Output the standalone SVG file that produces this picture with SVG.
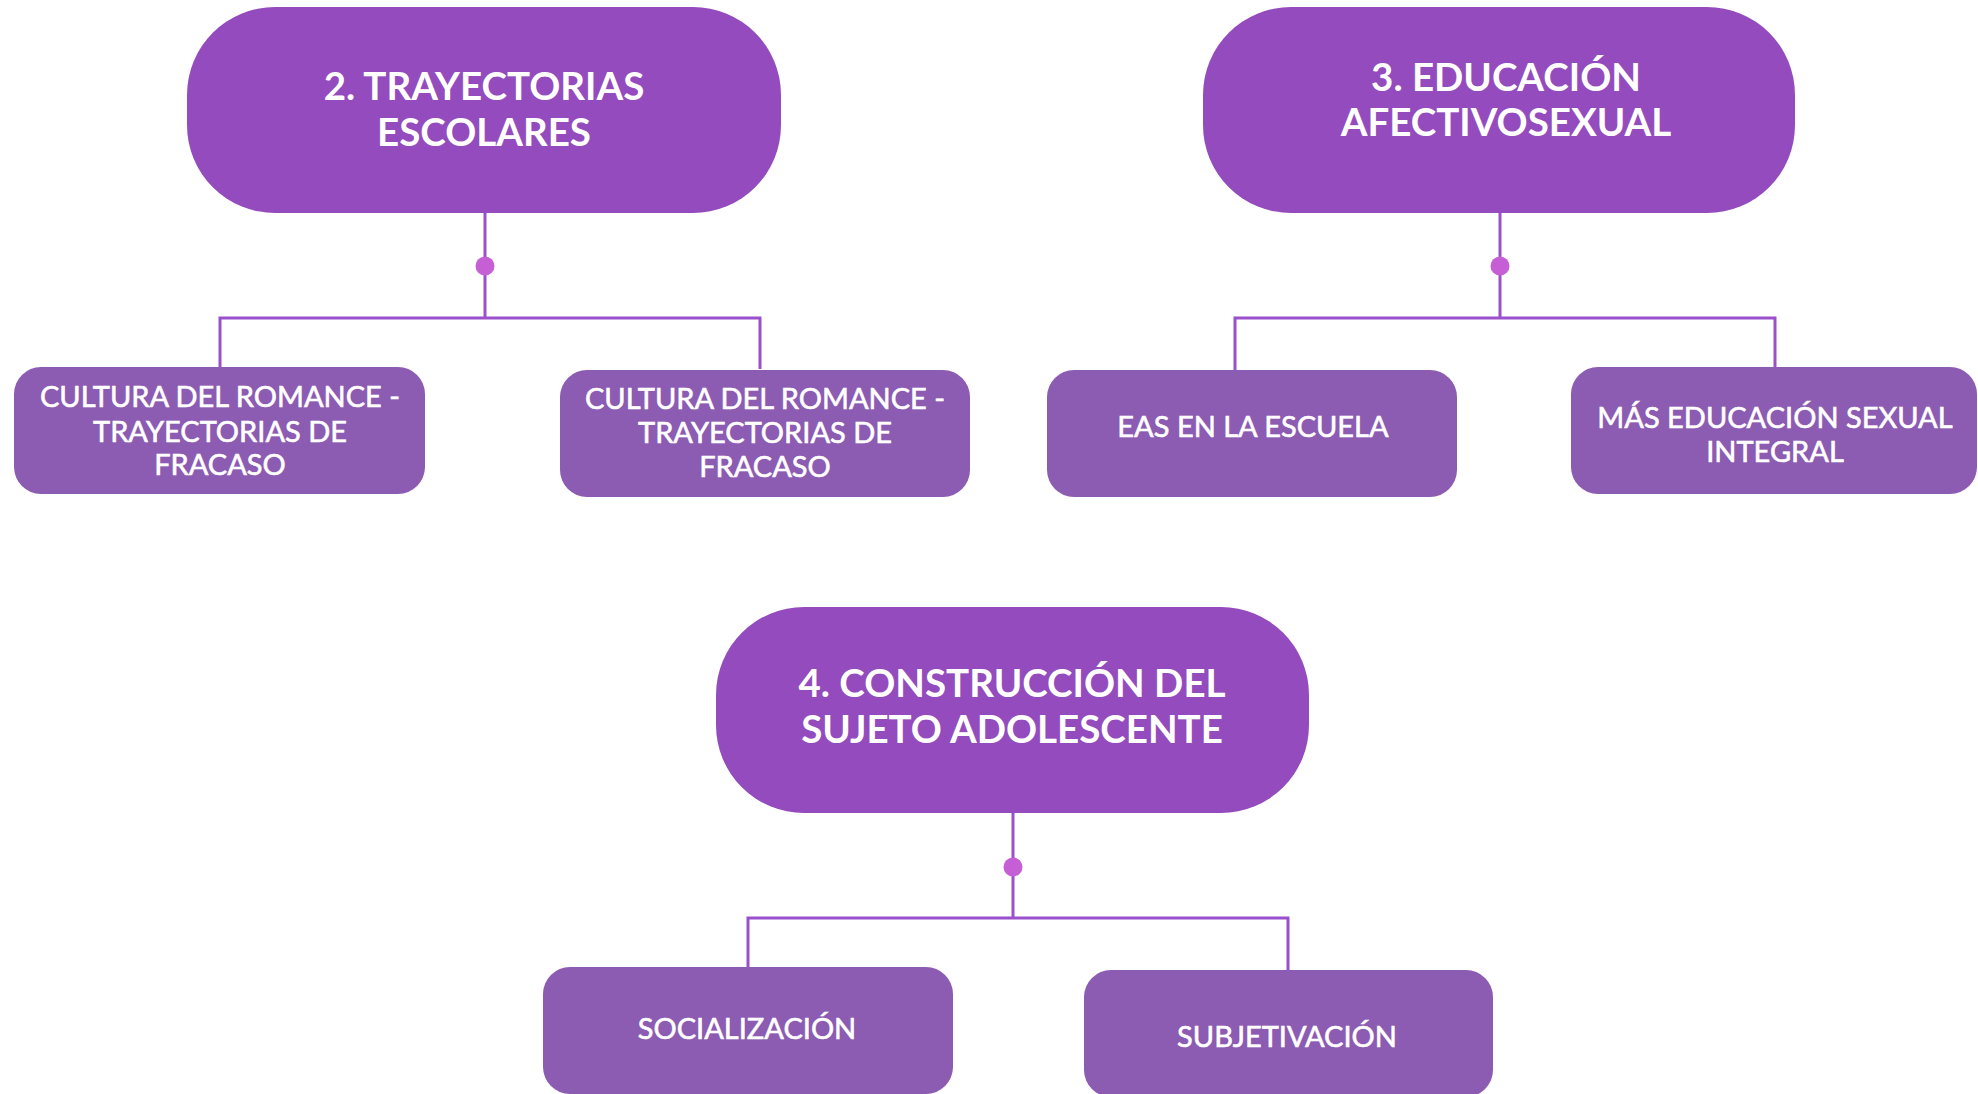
<svg xmlns="http://www.w3.org/2000/svg" width="1978" height="1094" viewBox="0 0 1978 1094">
<style>
.main{fill:#934BBD}
.child{fill:#8C5BB2}
.mt{font-family:Lato,"Liberation Sans",sans-serif;font-weight:700;font-size:38.5px;fill:#fff;text-anchor:middle}
.ct{font-family:Lato,"Liberation Sans",sans-serif;font-weight:400;font-size:29px;fill:#fff;stroke:#fff;stroke-width:0.6;text-anchor:middle}
.ln{fill:none;stroke:#9A4FCB;stroke-width:3}
.dot{fill:#C65ED6}
</style>
<rect width="1978" height="1094" fill="#fff"/>
<g id="connectors">
<path class="ln" d="M485 213V318M220 368V318H760V369"/>
<circle class="dot" cx="485" cy="266" r="9.5"/>
<path class="ln" d="M1500 213V318M1235 370V318H1775V368"/>
<circle class="dot" cx="1500" cy="266" r="9.5"/>
<path class="ln" d="M1013 813V918M748 968V918H1288V971"/>
<circle class="dot" cx="1013" cy="867" r="9.5"/>
</g>
<g id="node2">
<rect class="main" x="187" y="7" width="594" height="206" rx="88"/>
<text class="mt" x="484" y="100">2. TRAYECTORIAS</text>
<text class="mt" x="484" y="146">ESCOLARES</text>
</g>
<g id="node3">
<rect class="main" x="1203" y="7" width="592" height="206" rx="88"/>
<text class="mt" x="1506" y="91">3. EDUCACIÓN</text>
<text class="mt" x="1506" y="136">AFECTIVOSEXUAL</text>
</g>
<g id="node4">
<rect class="main" x="716" y="607" width="593" height="206" rx="88"/>
<text class="mt" x="1012" y="697">4. CONSTRUCCIÓN DEL</text>
<text class="mt" x="1012" y="743">SUJETO ADOLESCENTE</text>
</g>
<g id="child-romance-1">
<rect class="child" x="14" y="367" width="411" height="127" rx="27"/>
<text class="ct" x="220" y="407">CULTURA DEL ROMANCE -</text>
<text class="ct" x="220" y="442">TRAYECTORIAS DE</text>
<text class="ct" x="220" y="475">FRACASO</text>
</g>
<g id="child-romance-2">
<rect class="child" x="560" y="370" width="410" height="127" rx="27"/>
<text class="ct" x="765" y="409">CULTURA DEL ROMANCE -</text>
<text class="ct" x="765" y="443">TRAYECTORIAS DE</text>
<text class="ct" x="765" y="477">FRACASO</text>
</g>
<g id="child-eas">
<rect class="child" x="1047" y="370" width="410" height="127" rx="27"/>
<text class="ct" x="1253" y="437">EAS EN LA ESCUELA</text>
</g>
<g id="child-esi">
<rect class="child" x="1571" y="367" width="406" height="127" rx="27"/>
<text class="ct" x="1775" y="428">MÁS EDUCACIÓN SEXUAL</text>
<text class="ct" x="1775" y="462">INTEGRAL</text>
</g>
<g id="child-socializacion">
<rect class="child" x="543" y="967" width="410" height="127" rx="27"/>
<text class="ct" x="747" y="1039">SOCIALIZACIÓN</text>
</g>
<g id="child-subjetivacion">
<rect class="child" x="1084" y="970" width="409" height="127" rx="27"/>
<text class="ct" x="1287" y="1047">SUBJETIVACIÓN</text>
</g>
</svg>
